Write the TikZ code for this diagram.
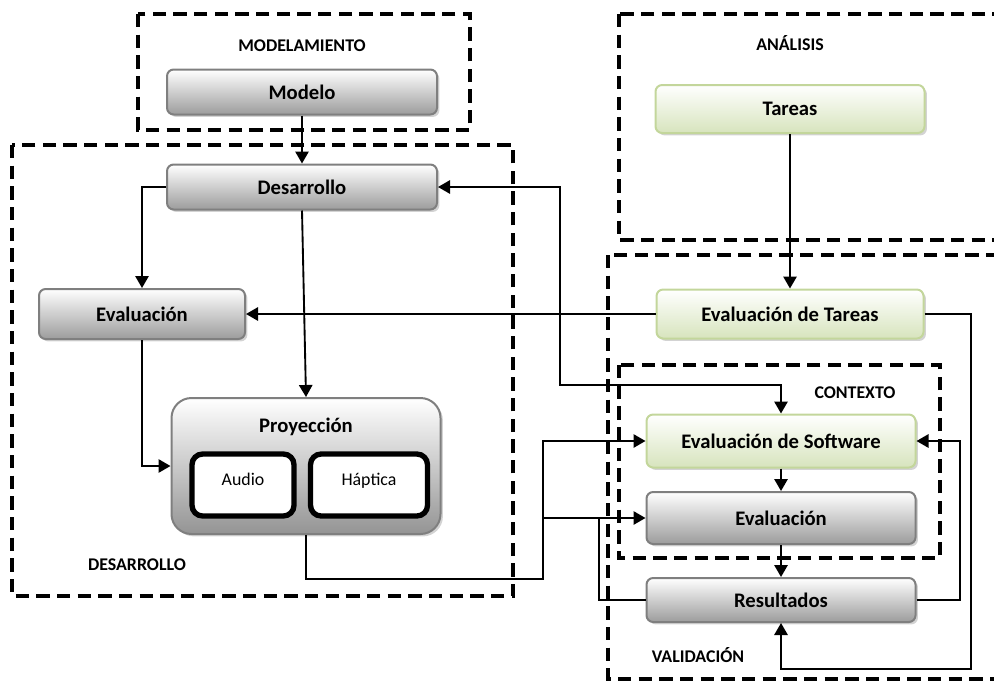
\documentclass[tikz,border=0pt]{standalone}
\usepackage{fontspec}
\setmainfont{Carlito}
\usepackage{xcolor}
\usepackage{tikz}
\usetikzlibrary{arrows.meta,shadows,positioning,calc}

\definecolor{bordegris}{HTML}{7F7F7F}
\definecolor{fondogris}{HTML}{9C9C9C}
\definecolor{bordeverde}{HTML}{C3D69B}
\definecolor{fondoverde}{HTML}{D7E4BD}

\begin{document}
\begin{tikzpicture}[x=0.75pt, y=-0.75pt, >={Triangle[length=9pt,width=10pt]},
		caja/.style={draw=bordegris, line width=1.5pt, rounded corners=5pt, top color=white, bottom color=fondogris, inner sep=0pt, font=\fontsize{15.5}{18}\selectfont\bfseries, drop shadow={shadow xshift=1.8pt, shadow yshift=-1.8pt, opacity=0.35}},
		cajaverde/.style={caja, draw=bordeverde, bottom color=fondoverde},
		modo/.style={draw, line width=4pt, rounded corners=8pt, fill=white, minimum height=46.5pt, text height=8pt, text depth=8pt, font=\fontsize{13.4}{16}\selectfont},
		marco/.style={line width=3pt, dash pattern=on 10pt off 5.5pt},
		grupo/.style={font=\fontsize{13.4}{16}\selectfont\bfseries},
		linea/.style={line width=1.4pt}]
		\useasboundingbox (0,0) rectangle (994,682);

		% marcos
		\draw[marco] (138,14) rectangle (470,130);
		\draw[marco] (12,145) rectangle (513,596);
		\draw[marco] (619,14) rectangle (1010,240);
		\draw[marco] (608,255) rectangle (1010,679);
		\draw[marco] (619,365) rectangle (940,558);

		\node[grupo] (gmod) at (302,46) {MODELAMIENTO};
		\node[grupo] (gdes) at (137,565) {DESARROLLO};
		\node[grupo] (gana) at (790,43) {ANÁLISIS};
		\node[grupo] (gcon) at (855,393) {CONTEXTO};
		\node[grupo] (gval) at (698,655) {VALIDACIÓN};

		% cajas
		\node[caja, minimum width=202.5pt, minimum height=33.75pt] (mod) at (302,92) {Modelo};
		\node[caja, minimum width=202.5pt, minimum height=33.75pt] (des) at (302,187) {Desarrollo};
		\node[caja, minimum width=154.5pt, minimum height=37.5pt] (eva1) at (142,314) {Evaluación};

		\node[caja, rounded corners=15pt, minimum width=201.75pt, minimum height=102pt, bottom color=black!42] (proy) at (306,466) {};
		\node[font=\fontsize{15.5}{18}\selectfont\bfseries] (proyt) at (306,427) {Proyección};
		\node[modo, minimum width=76.5pt] (aud) at (243,485) {Audio};
		\node[modo, minimum width=87.75pt] (hap) at (369,485) {Háptica};

		\node[cajaverde, minimum width=201.75pt, minimum height=36pt] (tar) at (790,109) {Tareas};
		\node[cajaverde, minimum width=200.25pt, minimum height=36.75pt] (evt) at (790,314) {Evaluación de Tareas};
		\node[cajaverde, minimum width=201.75pt, minimum height=39.75pt] (evs) at (781,441) {Evaluación de Software};
		\node[caja, minimum width=201.75pt, minimum height=39pt] (eva2) at (781,518) {Evaluación};
		\node[caja, minimum width=201.75pt, minimum height=33pt] (res) at (781,600) {Resultados};

		% conexiones
		\coordinate (c1) at (560,385);
		\coordinate (c2) at (543,579);
		\coordinate (c3) at (c2 |- eva2.west);
		\coordinate (c4) at (599,518);
		\coordinate (c5) at (960,441);
		\coordinate (c6) at (971,669);

		\draw[linea,->] (mod) -- (des);
		\draw[linea,->] (des.west) -| (eva1.north);
		\draw[linea,->] (des.south) -- (proy.north);
		\draw[linea,->] (eva1.south) |- (proy.west);
		\draw[linea,->] (evt.west) -- (eva1.east);
		\draw[linea,->] (tar) -- (evt);
		\draw[linea,<->] (des.east) -| (c1) -| (evs.north);
		\draw[linea,->] (proy.south) |- (c2) |- (evs.west);
		\draw[linea,->] (c3) -- (eva2.west);
		\draw[linea] (res.west) -| (c4);
		\draw[linea,->] (res.east) -| (c5) -- (evs.east);
		\draw[linea,->] (evt.east) -| (c6) -| (res.south);
		\draw[linea,->] (evs) -- (eva2);
		\draw[linea,->] (eva2) -- (res);
	\end{tikzpicture}
\end{document}
